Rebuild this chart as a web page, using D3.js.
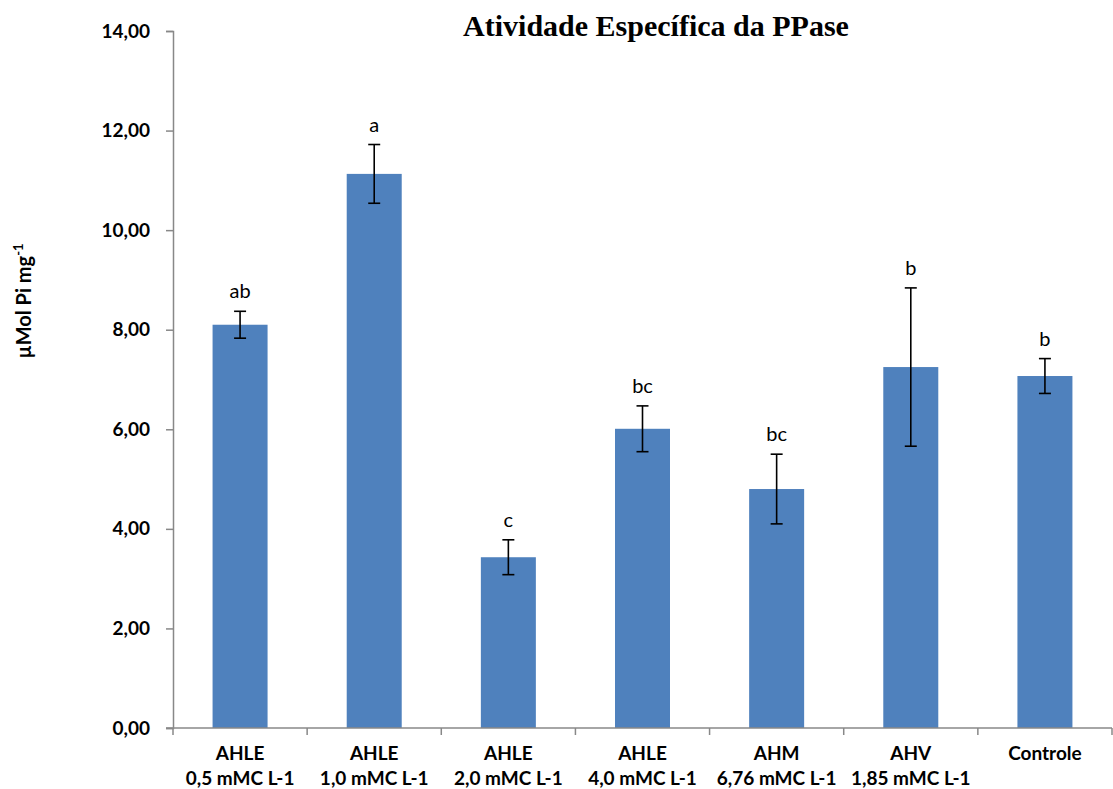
<!DOCTYPE html>
<html>
<head>
<meta charset="utf-8">
<script src="https://cdn.jsdelivr.net/npm/d3@7"></script>
<style>
  html, body { margin: 0; padding: 0; background: #fff; }
  svg { display: block; }
</style>
</head>
<body>
<div id="chart"></div>
<script>
// Treatments (two-line labels), means, standard errors and significance letters
const categories = [
  ["AHLE", "0,5 mMC L-1"],
  ["AHLE", "1,0 mMC L-1"],
  ["AHLE", "2,0 mMC L-1"],
  ["AHLE", "4,0 mMC L-1"],
  ["AHM", "6,76 mMC L-1"],
  ["AHV", "1,85 mMC L-1"],
  ["Controle", ""]
];
const values = [8.10, 11.13, 3.43, 6.01, 4.80, 7.25, 7.07];
const errors = [0.27, 0.59, 0.35, 0.46, 0.70, 1.59, 0.35];
const letters = ["ab", "a", "c", "bc", "bc", "b", "b"];
const yTicks = [0, 2, 4, 6, 8, 10, 12, 14];

const W = 1113, H = 789;
const plotLeft = 173, plotRight = 1112, plotTop = 31, plotBottom = 728;

const svg = d3.select("#chart").append("svg")
  .attr("width", W).attr("height", H);

const keys = categories.map((d, i) => i);

const x = d3.scaleBand().domain(keys).range([plotLeft, plotRight])
  .paddingInner(0.59).paddingOuter(0.295);
const xOuter = d3.scaleBand().domain(keys).range([plotLeft, plotRight]).padding(0);
const y = d3.scaleLinear().domain([0, 14]).range([plotBottom, plotTop]);

const labelFont = "Lato, 'Liberation Sans', sans-serif";

// Title
svg.append("text")
  .attr("x", 656).attr("y", 36)
  .attr("text-anchor", "middle")
  .attr("font-family", "'Liberation Serif', 'Times New Roman', serif")
  .attr("font-weight", "bold")
  .attr("font-size", 30)
  .attr("fill", "#000")
  .text("Atividade Específica da PPase");

// Y axis
const yAxis = svg.append("g")
  .attr("transform", `translate(${plotLeft},0)`)
  .call(d3.axisLeft(y).tickValues(yTicks).tickSize(7).tickPadding(16)
    .tickFormat(d => d3.format(".2f")(d).replace(".", ",")));
yAxis.select(".domain").attr("stroke", "#888").attr("stroke-width", 1.5);
yAxis.selectAll(".tick line").attr("stroke", "#888").attr("stroke-width", 1.5);
yAxis.selectAll(".tick text")
  .attr("font-family", labelFont).attr("font-weight", "bold")
  .attr("font-size", 19).attr("fill", "#000");

// Y axis title
svg.append("text")
  .attr("transform", "translate(31,301) rotate(-90)")
  .attr("text-anchor", "middle")
  .attr("font-family", labelFont).attr("font-weight", "bold")
  .attr("font-size", 20).attr("fill", "#000")
  .call(t => {
    t.append("tspan").text("µMol Pi mg");
    t.append("tspan").attr("dy", -8).attr("font-size", 13).text("-1");
  });

// Bars
svg.append("g").selectAll("rect")
  .data(values)
  .join("rect")
  .attr("x", (d, i) => x(i))
  .attr("width", x.bandwidth())
  .attr("y", d => y(d))
  .attr("height", d => y(0) - y(d))
  .attr("fill", "#4F81BD");

// Error bars
const eb = svg.append("g").attr("stroke", "#000").attr("stroke-width", 1.6);
values.forEach((v, i) => {
  const cx = x(i) + x.bandwidth() / 2;
  const hi = y(v + errors[i]), lo = y(v - errors[i]);
  eb.append("line").attr("x1", cx).attr("x2", cx).attr("y1", hi).attr("y2", lo);
  eb.append("line").attr("x1", cx - 6).attr("x2", cx + 6).attr("y1", hi).attr("y2", hi);
  eb.append("line").attr("x1", cx - 6).attr("x2", cx + 6).attr("y1", lo).attr("y2", lo);
});

// Significance letters
svg.append("g").selectAll("text")
  .data(letters)
  .join("text")
  .attr("x", (d, i) => x(i) + x.bandwidth() / 2)
  .attr("y", (d, i) => y(values[i] + errors[i]) - 13)
  .attr("text-anchor", "middle")
  .attr("font-family", labelFont)
  .attr("font-size", 20)
  .attr("fill", "#000")
  .text(d => d);

// X axis: line, boundary ticks and two-line labels
const xg = svg.append("g");
xg.append("line")
  .attr("x1", plotLeft - 7).attr("x2", plotRight)
  .attr("y1", plotBottom).attr("y2", plotBottom)
  .attr("stroke", "#888").attr("stroke-width", 1.5);
const bounds = keys.map(k => xOuter(k)).concat([plotRight]);
xg.selectAll("line.tick").data(bounds).join("line")
  .attr("class", "tick")
  .attr("x1", d => d).attr("x2", d => d)
  .attr("y1", plotBottom).attr("y2", plotBottom + 7)
  .attr("stroke", "#888").attr("stroke-width", 1.5);
xg.selectAll("text").data(categories).join("text")
  .attr("text-anchor", "middle")
  .attr("font-family", labelFont).attr("font-weight", "bold")
  .attr("font-size", 19).attr("fill", "#000")
  .each(function (d, i) {
    const cx = xOuter(i) + xOuter.bandwidth() / 2;
    const t = d3.select(this);
    t.append("tspan").attr("x", cx).attr("y", 760).text(d[0]);
    if (d[1]) t.append("tspan").attr("x", cx).attr("y", 785).text(d[1]);
  });
</script>
</body>
</html>
